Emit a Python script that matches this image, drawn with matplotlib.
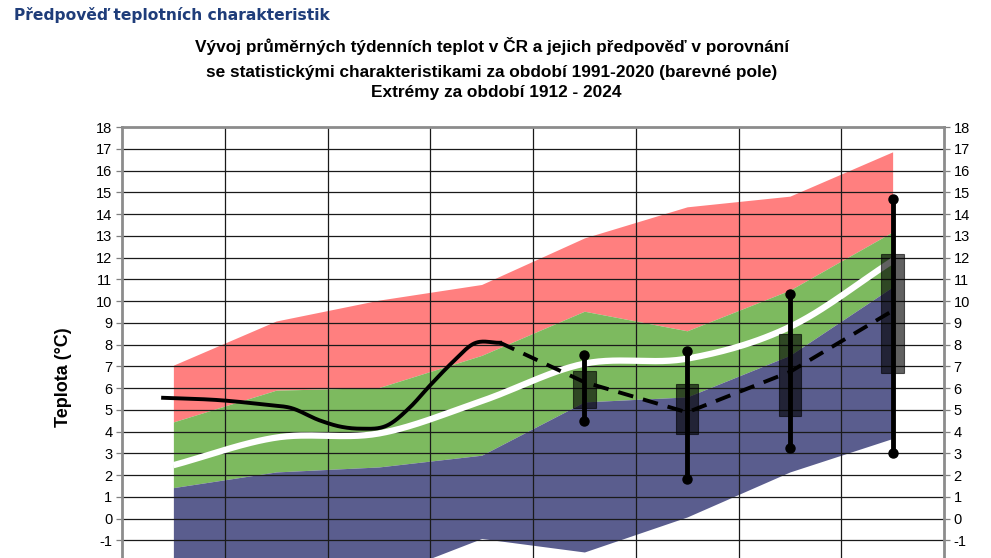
import numpy as np
import matplotlib
matplotlib.use('Agg')
import matplotlib.pyplot as plt

# weekly categories 0..7 (band vertices at category centres)
weeks = [0, 1, 2, 3, 4, 5, 6, 7]
red_top = [7.05, 9.08, 10.04, 10.76, 12.9, 14.33, 14.82, 16.86]
green_top = [4.44, 5.9, 6.02, 7.5, 9.53, 8.63, 10.5, 13.18]
blue_top = [1.42, 2.14, 2.37, 2.91, 5.36, 5.59, 7.5, 10.65]
blue_bottom = [-3.0, -3.0, -2.75, -0.92, -1.54, 0.07, 2.14, 3.68]
mean_temp = [2.45, 3.72, 3.91, 5.4, 7.12, 7.35, 8.81, 11.85]

# observed temperature (solid line)
obs_x = [-0.1, 0.45, 0.94, 1.13, 1.43, 1.62, 1.82, 2.09, 2.3, 2.5, 2.72, 2.92, 3.18]
obs_y = [5.55, 5.44, 5.21, 5.1, 4.5, 4.23, 4.13, 4.3, 5.1, 6.13, 7.2, 8.03, 8.08]

# forecast (dashed line) and its spread
fc_x = [3.18, 4, 5, 6, 7]
fc_y = [8.08, 6.27, 4.88, 6.74, 9.55]
box_x = [4, 5, 6, 7]
box_lo = [5.09, 3.88, 4.70, 6.70]
box_hi = [6.79, 6.20, 8.46, 12.18]
wh_lo = [4.49, 1.81, 3.22, 3.02]
wh_hi = [7.51, 7.71, 10.30, 14.67]

yticks = list(range(-2, 19))


def smooth(x, y, n=30):
    # cubic hermite in x with centred slopes, close to excel's smoothed line
    x = np.asarray(x, float); y = np.asarray(y, float)
    m = np.gradient(y, x)
    xs, ys = [], []
    for i in range(len(x)-1):
        h = x[i+1]-x[i]
        t = np.linspace(0, 1, n)
        h00 = 2*t**3-3*t**2+1; h10 = t**3-2*t**2+t
        h01 = -2*t**3+3*t**2; h11 = t**3-t**2
        xs.extend(x[i]+h*t)
        ys.extend(h00*y[i]+h10*h*m[i]+h01*y[i+1]+h11*h*m[i+1])
    return np.array(xs), np.array(ys)


plt.rcParams['font.family'] = ['Liberation Sans', 'DejaVu Sans']
plt.rcParams['axes.unicode_minus'] = False
fig = plt.figure(figsize=(9.91, 5.58), dpi=100)

# axes runs below the bottom edge of the picture, like the cropped original
ax = fig.add_axes([122/991, 1-627.25/558, 822/991, 500.25/558])
ax.set_xlim(-0.5, 7.5)
ax.set_ylim(-5, 18)

ax.fill_between(weeks, green_top, red_top, color='#ff7f7f', lw=0, zorder=1)
ax.fill_between(weeks, blue_top, green_top, color='#7dba5f', lw=0, zorder=1)
ax.fill_between(weeks, blue_bottom, blue_top, color='#5a5d8e', lw=0, zorder=1)

for yv in range(-5, 18):
    ax.axhline(yv, color='#1a1a1a', lw=0.9, zorder=2)
for xv in np.arange(0.5, 7.5, 1):
    ax.axvline(xv, color='#1a1a1a', lw=0.9, zorder=2)

mx, my = smooth(weeks, mean_temp)
ax.plot(mx, my, color='white', lw=4.5, solid_capstyle='butt', zorder=3)

ox, oy = smooth(obs_x, obs_y)
ax.plot(ox, oy, color='black', lw=2.8, zorder=4)
ax.plot(fc_x, fc_y, color='black', lw=2.8, dashes=(4, 2.6), zorder=4)

for i in range(len(box_x)):
    ax.bar(box_x[i], box_hi[i]-box_lo[i], bottom=box_lo[i], width=0.22,
           color='black', alpha=0.62, edgecolor='black', lw=0.8, zorder=5)
    ax.plot([box_x[i], box_x[i]], [wh_lo[i], wh_hi[i]], color='black',
            lw=3.5, marker='o', ms=6.5, zorder=6)

ax.set_yticks(yticks)
ax.tick_params(axis='y', which='both', left=True, right=True, labelleft=True,
               labelright=True, length=4, width=0.9, color='#7f7f7f',
               labelsize=10.5, pad=3)
ax.tick_params(axis='x', bottom=False, labelbottom=False)
for s in ['left', 'right', 'top', 'bottom']:
    ax.spines[s].set_color('#8c8c8c')
    ax.spines[s].set_linewidth(2)
    ax.spines[s].set_zorder(7)

fig.text(14/991, 1-15/558, 'Předpověď teplotních charakteristik', family='DejaVu Sans',
         fontsize=11.2, fontweight='bold', color='#1f3d7a', va='center', ha='left')
fig.text(492/991, 1-46/558, 'Vývoj průměrných týdenních teplot v ČR a jejich předpověď v porovnání',
         fontsize=12.4, fontweight='bold', ha='center', va='center')
fig.text(492/991, 1-73/558, 'se statistickými charakteristikami za období 1991-2020 (barevné pole)',
         fontsize=12.4, fontweight='bold', ha='center', va='center')
fig.text(496/991, 1-93/558, 'Extrémy za období 1912 - 2024',
         fontsize=12.4, fontweight='bold', ha='center', va='center')
fig.text(63/991, 1-377/558, 'Teplota (°C)', fontsize=13, fontweight='bold',
         rotation=90, ha='center', va='center')

fig.savefig('out.png', dpi=100)
